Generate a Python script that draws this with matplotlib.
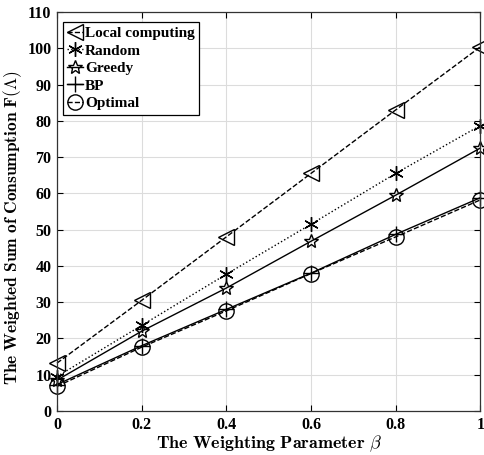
import numpy as np
import matplotlib
matplotlib.use('Agg')
import matplotlib.pyplot as plt

# weighting parameter beta
beta = [0, 0.2, 0.4, 0.6, 0.8, 1.0]

# weighted sum of consumption for each scheme
local_computing = [13.2, 30.5, 48.0, 65.5, 83.0, 100.4]
random_scheme = [9.5, 23.6, 37.7, 51.5, 65.5, 78.7]
greedy = [8.5, 22.0, 33.9, 46.8, 59.5, 72.5]
bp = [7.3, 18.0, 28.0, 38.0, 48.7, 58.8]
optimal = [6.8, 17.6, 27.6, 37.9, 48.0, 58.2]

labels = ['Local computing', 'Random', 'Greedy', 'BP', 'Optimal']
xtick_labels = ['0', '0.2', '0.4', '0.6', '0.8', '1']

plt.rcParams['font.family'] = 'Liberation Serif'
plt.rcParams['font.weight'] = 'bold'
plt.rcParams['mathtext.fontset'] = 'cm'

fig = plt.figure(figsize=(4.85, 4.55), dpi=100)
ax = fig.add_axes([0.1175, 0.0967, 0.873, 0.877])

series = [
    (local_computing, '--', '<', 11.5),
    (random_scheme, ':', (6, 2, 0), 10.5),
    (greedy, '-', '*', 10.5),
    (bp, '-', '+', 11),
    (optimal, '--', 'o', 11),
]

handles = []
for (vals, ls, mk, ms), lab in zip(series, labels):
    h, = ax.plot(beta, vals, linestyle=ls, color='black', linewidth=1.0,
                 marker=mk, markersize=ms, markerfacecolor='none',
                 markeredgecolor='black', markeredgewidth=1.0, label=lab,
                 clip_on=False)
    handles.append(h)

ax.set_xlim(0, 1)
ax.set_ylim(0, 110)
ax.set_xticks(beta)
ax.set_xticklabels(xtick_labels)
ax.set_yticks(np.arange(0, 111, 10))

ax.grid(True, color='#dcdcdc', linewidth=0.8)
ax.set_axisbelow(True)
ax.tick_params(direction='in', top=True, right=True, labelsize=11.5, length=4, pad=4)
for t in ax.get_xticklabels() + ax.get_yticklabels():
    t.set_fontweight('bold')
for s in ax.spines.values():
    s.set_linewidth(0.9)
    s.set_color('#333333')

ax.set_xlabel(r'$\mathbf{The\ Weighting\ Parameter}\ \beta$', fontsize=13)
ax.set_ylabel(r'$\mathbf{The\ Weighted\ Sum\ of\ Consumption\ F(\Lambda)}$', fontsize=12.5)
ax.xaxis.set_label_coords(0.5, -0.056)
ax.yaxis.set_label_coords(-0.078, 0.46)

leg = ax.legend(handles=handles, loc='upper left', fontsize=11,
                handlelength=1.0, handletextpad=0.15, borderpad=0.3,
                labelspacing=0.25, fancybox=False, edgecolor='black',
                framealpha=1, borderaxespad=0,
                bbox_to_anchor=(0.014, 0.975))
leg.get_frame().set_linewidth(0.9)
for t in leg.get_texts():
    t.set_fontweight('bold')

fig.savefig('out.png', dpi=100)
